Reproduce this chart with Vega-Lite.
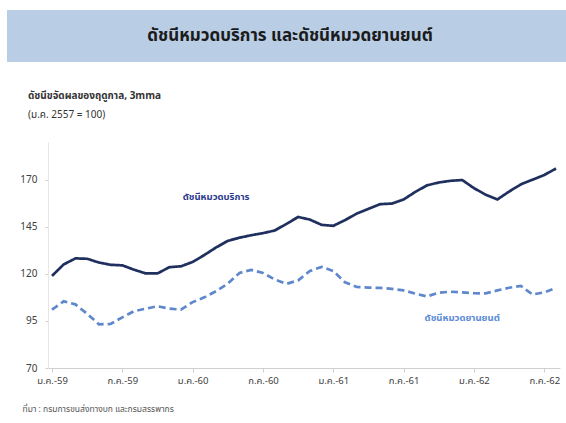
{
  "$schema": "https://vega.github.io/schema/vega-lite/v6.json",
  "background": "white",
  "padding": {"left": 7, "top": 10, "right": 0, "bottom": 8},
  "config": {
    "view": {"stroke": null},
    "font": "Noto Sans Thai, Tahoma, sans-serif"
  },
  "bounds": "flush",
  "center": true,
  "spacing": 80,
  "datasets": {
    "d": [
      {"m": "ม.ค.-59", "s": "บริการ", "v": 118.9}, {"m": "ก.พ.-59", "s": "บริการ", "v": 125}, {"m": "มี.ค.-59", "s": "บริการ", "v": 128.2}, {"m": "เม.ย.-59", "s": "บริการ", "v": 128}, {"m": "พ.ค.-59", "s": "บริการ", "v": 126}, {"m": "มิ.ย.-59", "s": "บริการ", "v": 124.8}, {"m": "ก.ค.-59", "s": "บริการ", "v": 124.5}, {"m": "ส.ค.-59", "s": "บริการ", "v": 122.2}, {"m": "ก.ย.-59", "s": "บริการ", "v": 120.2}, {"m": "ต.ค.-59", "s": "บริการ", "v": 120.2}, {"m": "พ.ย.-59", "s": "บริการ", "v": 123.5}, {"m": "ธ.ค.-59", "s": "บริการ", "v": 124},
      {"m": "ม.ค.-60", "s": "บริการ", "v": 126.3}, {"m": "ก.พ.-60", "s": "บริการ", "v": 130}, {"m": "มี.ค.-60", "s": "บริการ", "v": 134}, {"m": "เม.ย.-60", "s": "บริการ", "v": 137.5}, {"m": "พ.ค.-60", "s": "บริการ", "v": 139.2}, {"m": "มิ.ย.-60", "s": "บริการ", "v": 140.5}, {"m": "ก.ค.-60", "s": "บริการ", "v": 141.6}, {"m": "ส.ค.-60", "s": "บริการ", "v": 143}, {"m": "ก.ย.-60", "s": "บริการ", "v": 146.5}, {"m": "ต.ค.-60", "s": "บริการ", "v": 150.2}, {"m": "พ.ย.-60", "s": "บริการ", "v": 148.8}, {"m": "ธ.ค.-60", "s": "บริการ", "v": 146},
      {"m": "ม.ค.-61", "s": "บริการ", "v": 145.5}, {"m": "ก.พ.-61", "s": "บริการ", "v": 148.5}, {"m": "มี.ค.-61", "s": "บริการ", "v": 152}, {"m": "เม.ย.-61", "s": "บริการ", "v": 154.5}, {"m": "พ.ค.-61", "s": "บริการ", "v": 157}, {"m": "มิ.ย.-61", "s": "บริการ", "v": 157.3}, {"m": "ก.ค.-61", "s": "บริการ", "v": 159.5}, {"m": "ส.ค.-61", "s": "บริการ", "v": 163.5}, {"m": "ก.ย.-61", "s": "บริการ", "v": 167}, {"m": "ต.ค.-61", "s": "บริการ", "v": 168.5}, {"m": "พ.ย.-61", "s": "บริการ", "v": 169.4}, {"m": "ธ.ค.-61", "s": "บริการ", "v": 169.8},
      {"m": "ม.ค.-62", "s": "บริการ", "v": 165.5}, {"m": "ก.พ.-62", "s": "บริการ", "v": 162}, {"m": "มี.ค.-62", "s": "บริการ", "v": 159.5}, {"m": "เม.ย.-62", "s": "บริการ", "v": 163.7}, {"m": "พ.ค.-62", "s": "บริการ", "v": 167.5}, {"m": "มิ.ย.-62", "s": "บริการ", "v": 170}, {"m": "ก.ค.-62", "s": "บริการ", "v": 172.5}, {"m": "ส.ค.-62", "s": "บริการ", "v": 175.9},
      {"m": "ม.ค.-59", "s": "ยานยนต์", "v": 101}, {"m": "ก.พ.-59", "s": "ยานยนต์", "v": 105.4}, {"m": "มี.ค.-59", "s": "ยานยนต์", "v": 103.8}, {"m": "เม.ย.-59", "s": "ยานยนต์", "v": 98.8}, {"m": "พ.ค.-59", "s": "ยานยนต์", "v": 93.2}, {"m": "มิ.ย.-59", "s": "ยานยนต์", "v": 93.4}, {"m": "ก.ค.-59", "s": "ยานยนต์", "v": 96.9}, {"m": "ส.ค.-59", "s": "ยานยนต์", "v": 100.2}, {"m": "ก.ย.-59", "s": "ยานยนต์", "v": 101.5}, {"m": "ต.ค.-59", "s": "ยานยนต์", "v": 102.8}, {"m": "พ.ย.-59", "s": "ยานยนต์", "v": 101.5}, {"m": "ธ.ค.-59", "s": "ยานยนต์", "v": 101},
      {"m": "ม.ค.-60", "s": "ยานยนต์", "v": 105}, {"m": "ก.พ.-60", "s": "ยานยนต์", "v": 107.5}, {"m": "มี.ค.-60", "s": "ยานยนต์", "v": 110.8}, {"m": "เม.ย.-60", "s": "ยานยนต์", "v": 114.8}, {"m": "พ.ค.-60", "s": "ยานยนต์", "v": 120.5}, {"m": "มิ.ย.-60", "s": "ยานยนต์", "v": 122.1}, {"m": "ก.ค.-60", "s": "ยานยนต์", "v": 120.5}, {"m": "ส.ค.-60", "s": "ยานยนต์", "v": 117}, {"m": "ก.ย.-60", "s": "ยานยนต์", "v": 114.7}, {"m": "ต.ค.-60", "s": "ยานยนต์", "v": 116.5}, {"m": "พ.ย.-60", "s": "ยานยนต์", "v": 121.5}, {"m": "ธ.ค.-60", "s": "ยานยนต์", "v": 123.7},
      {"m": "ม.ค.-61", "s": "ยานยนต์", "v": 121.5}, {"m": "ก.พ.-61", "s": "ยานยนต์", "v": 115.5}, {"m": "มี.ค.-61", "s": "ยานยนต์", "v": 113}, {"m": "เม.ย.-61", "s": "ยานยนต์", "v": 112.7}, {"m": "พ.ค.-61", "s": "ยานยนต์", "v": 112.5}, {"m": "มิ.ย.-61", "s": "ยานยนต์", "v": 112}, {"m": "ก.ค.-61", "s": "ยานยนต์", "v": 111.2}, {"m": "ส.ค.-61", "s": "ยานยนต์", "v": 109.5}, {"m": "ก.ย.-61", "s": "ยานยนต์", "v": 108}, {"m": "ต.ค.-61", "s": "ยานยนต์", "v": 110}, {"m": "พ.ย.-61", "s": "ยานยนต์", "v": 110.5}, {"m": "ธ.ค.-61", "s": "ยานยนต์", "v": 110.2},
      {"m": "ม.ค.-62", "s": "ยานยนต์", "v": 109.7}, {"m": "ก.พ.-62", "s": "ยานยนต์", "v": 109.6}, {"m": "มี.ค.-62", "s": "ยานยนต์", "v": 111.2}, {"m": "เม.ย.-62", "s": "ยานยนต์", "v": 112.6}, {"m": "พ.ค.-62", "s": "ยานยนต์", "v": 113.6}, {"m": "มิ.ย.-62", "s": "ยานยนต์", "v": 109}, {"m": "ก.ค.-62", "s": "ยานยนต์", "v": 110.2}, {"m": "ส.ค.-62", "s": "ยานยนต์", "v": 112.5}
    ],
    "lab": [
      {"m": "มี.ค.-60", "s": "บริการ", "v": 161, "t": "ดัชนีหมวดบริการ"},
      {"m": "ธ.ค.-61", "s": "ยานยนต์", "v": 96.6, "t": "ดัชนีหมวดยานยนต์"}
    ],
    "hdr": [{"t": "ดัชนีหมวดบริการ และดัชนีหมวดยานยนต์"}]
  },
  "vconcat": [
    {
      "width": 594,
      "height": 52,
      "view": {"fill": "#b9cde5", "stroke": null},
      "data": {"name": "hdr"},
      "mark": {"type": "text", "fontSize": 17, "fontWeight": "bold", "color": "#1b1b1b", "align": "center", "baseline": "middle", "dx": -14},
      "encoding": {"text": {"field": "t", "type": "nominal"}}
    },
    {
      "width": 512,
      "height": 226,
      "title": {
        "text": "ดัชนีขจัดผลของฤดูกาล, 3mma",
        "subtitle": "(ม.ค. 2557 = 100)",
        "anchor": "start",
        "frame": "group",
        "dx": -20,
        "fontSize": 10,
        "fontWeight": "bold",
        "color": "#333333",
        "subtitleFontSize": 10,
        "subtitleColor": "#333333",
        "subtitlePadding": 9,
        "offset": 22
      },
      "layer": [
        {
          "data": {"name": "d"},
          "mark": {"type": "line", "strokeWidth": 2.7},
          "encoding": {
            "x": {
              "field": "m", "type": "ordinal", "sort": null,
              "scale": {"type": "point", "padding": 0.34},
              "axis": {
                "values": ["ม.ค.-59", "ก.ค.-59", "ม.ค.-60", "ก.ค.-60", "ม.ค.-61", "ก.ค.-61", "ม.ค.-62", "ก.ค.-62"],
                "labelAngle": 0, "labelFontSize": 9.5, "labelColor": "#404040", "labelPadding": 3, "labelOverlap": false,
                "domainColor": "#d0d0d0", "tickColor": "#d0d0d0", "tickSize": 4, "grid": false,
                "title": "ที่มา : กรมการขนส่งทางบก และกรมสรรพากร",
                "titleAnchor": "start", "titleAlign": "left", "titleX": -26, "titleY": 36,
                "titleFontSize": 8.5, "titleFontWeight": "normal", "titleColor": "#555555"
              }
            },
            "y": {
              "field": "v", "type": "quantitative",
              "scale": {"domain": [70, 190], "nice": false, "zero": false},
              "axis": {
                "values": [70, 95, 120, 145, 170],
                "labelFontSize": 10, "labelColor": "#404040", "labelPadding": 8,
                "domainColor": "#e6e6e6", "tickColor": "#d0d0d0", "tickSize": 3, "grid": false,
                "title": null
              }
            },
            "color": {"field": "s", "type": "nominal", "scale": {"domain": ["บริการ", "ยานยนต์"], "range": ["#1f2f5e", "#5f88cc"]}, "legend": null},
            "strokeDash": {"field": "s", "type": "nominal", "scale": {"domain": ["บริการ", "ยานยนต์"], "range": [[1, 0], [7, 4]]}, "legend": null}
          }
        },
        {
          "data": {"name": "lab"},
          "mark": {"type": "text", "fontSize": 9.5, "fontWeight": "bold", "align": "center", "baseline": "middle"},
          "encoding": {
            "x": {"field": "m", "type": "ordinal", "sort": null},
            "y": {"field": "v", "type": "quantitative"},
            "text": {"field": "t", "type": "nominal"},
            "color": {"field": "s", "type": "nominal", "scale": {"domain": ["บริการ", "ยานยนต์"], "range": ["#2b3a8a", "#5a8ad6"]}, "legend": null}
          }
        }
      ],
      "resolve": {"scale": {"color": "independent"}}
    }
  ]
}
